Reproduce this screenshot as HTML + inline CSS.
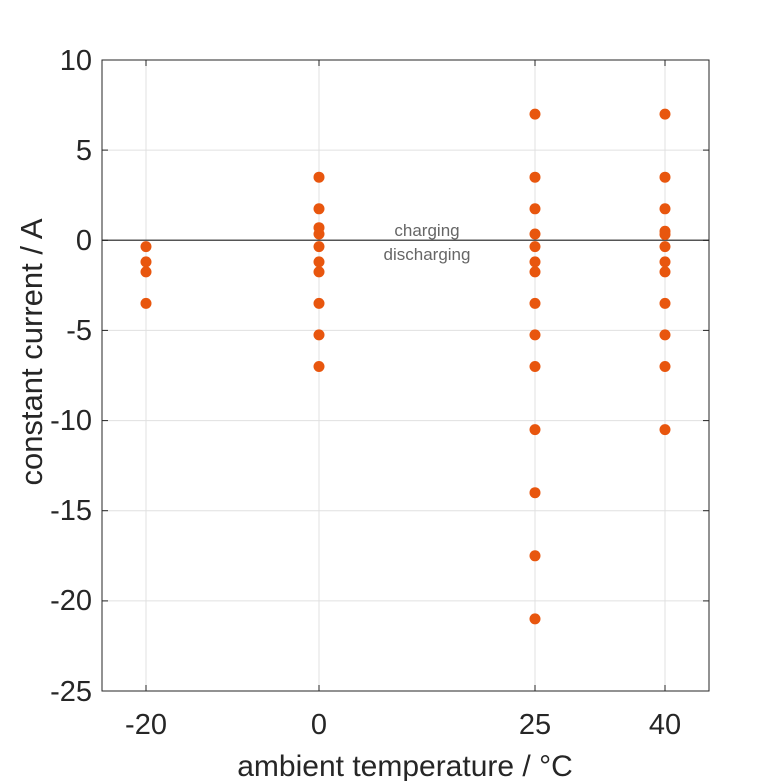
<!DOCTYPE html>
<html><head><meta charset="utf-8"><style>
html,body{margin:0;padding:0;background:#fff;}
svg{display:block;font-family:"Liberation Sans",Arial,sans-serif;}
</style></head><body>
<svg width="781" height="781" viewBox="0 0 781 781" xmlns="http://www.w3.org/2000/svg">
<rect width="781" height="781" fill="#fff"/>
<g stroke="#e0e0e0" stroke-width="1">
<line x1="146" y1="60" x2="146" y2="691"/>
<line x1="319" y1="60" x2="319" y2="691"/>
<line x1="535" y1="60" x2="535" y2="691"/>
<line x1="665" y1="60" x2="665" y2="691"/>
<line x1="102" y1="150.1" x2="709" y2="150.1"/>
<line x1="102" y1="330.4" x2="709" y2="330.4"/>
<line x1="102" y1="420.6" x2="709" y2="420.6"/>
<line x1="102" y1="510.7" x2="709" y2="510.7"/>
<line x1="102" y1="600.9" x2="709" y2="600.9"/>
</g>
<line x1="102" y1="240.3" x2="709" y2="240.3" stroke="#555" stroke-width="1.5"/>
<rect x="102" y="60" width="607" height="631" fill="none" stroke="#262626" stroke-width="1"/>
<g stroke="#262626" stroke-width="1">
<line x1="146" y1="691" x2="146" y2="685"/><line x1="319" y1="691" x2="319" y2="685"/>
<line x1="535" y1="691" x2="535" y2="685"/><line x1="665" y1="691" x2="665" y2="685"/>
<line x1="146" y1="60" x2="146" y2="66"/><line x1="319" y1="60" x2="319" y2="66"/>
<line x1="535" y1="60" x2="535" y2="66"/><line x1="665" y1="60" x2="665" y2="66"/>
<line x1="102" y1="60" x2="108" y2="60"/><line x1="102" y1="150.1" x2="108" y2="150.1"/>
<line x1="102" y1="240.3" x2="108" y2="240.3"/><line x1="102" y1="330.4" x2="108" y2="330.4"/>
<line x1="102" y1="420.6" x2="108" y2="420.6"/><line x1="102" y1="510.7" x2="108" y2="510.7"/>
<line x1="102" y1="600.9" x2="108" y2="600.9"/><line x1="102" y1="691" x2="108" y2="691"/>
<line x1="709" y1="60" x2="703" y2="60"/><line x1="709" y1="150.1" x2="703" y2="150.1"/>
<line x1="709" y1="240.3" x2="703" y2="240.3"/><line x1="709" y1="330.4" x2="703" y2="330.4"/>
<line x1="709" y1="420.6" x2="703" y2="420.6"/><line x1="709" y1="510.7" x2="703" y2="510.7"/>
<line x1="709" y1="600.9" x2="703" y2="600.9"/><line x1="709" y1="691" x2="703" y2="691"/>
</g>
<g font-size="29" fill="#262626" text-anchor="end">
<text x="92" y="70">10</text><text x="92" y="160">5</text><text x="92" y="250">0</text>
<text x="92" y="340">-5</text><text x="92" y="430">-10</text><text x="92" y="520">-15</text>
<text x="92" y="610">-20</text><text x="92" y="701">-25</text>
</g>
<g font-size="29" fill="#262626" text-anchor="middle">
<text x="146" y="734">-20</text><text x="319" y="734">0</text>
<text x="535" y="734">25</text><text x="665" y="734">40</text>
</g>
<g font-size="30" fill="#262626" text-anchor="middle">
<text x="405" y="776">ambient temperature / °C</text>
</g>
<text font-size="31" fill="#262626" text-anchor="middle" transform="translate(42,352) rotate(-90)">constant current / A</text>
<g font-size="17" fill="#666" text-anchor="middle">
<text x="427" y="236">charging</text>
<text x="427" y="260">discharging</text>
</g>
<g fill="#e8560e">
<circle cx="146" cy="246.6" r="5.5"/><circle cx="146" cy="261.9" r="5.5"/><circle cx="146" cy="271.9" r="5.5"/><circle cx="146" cy="303.4" r="5.5"/>
<circle cx="319" cy="177.2" r="5.5"/><circle cx="319" cy="208.8" r="5.5"/><circle cx="319" cy="227.7" r="5.5"/><circle cx="319" cy="234" r="5.5"/>
<circle cx="319" cy="246.6" r="5.5"/><circle cx="319" cy="261.9" r="5.5"/><circle cx="319" cy="271.9" r="5.5"/><circle cx="319" cy="303.4" r="5.5"/>
<circle cx="319" cy="334.9" r="5.5"/><circle cx="319" cy="366.5" r="5.5"/>
<circle cx="535" cy="114.1" r="5.5"/><circle cx="535" cy="177.2" r="5.5"/><circle cx="535" cy="208.8" r="5.5"/><circle cx="535" cy="234" r="5.5"/>
<circle cx="535" cy="246.6" r="5.5"/><circle cx="535" cy="261.9" r="5.5"/><circle cx="535" cy="271.9" r="5.5"/><circle cx="535" cy="303.4" r="5.5"/>
<circle cx="535" cy="334.9" r="5.5"/><circle cx="535" cy="366.5" r="5.5"/><circle cx="535" cy="429.6" r="5.5"/><circle cx="535" cy="492.7" r="5.5"/>
<circle cx="535" cy="555.8" r="5.5"/><circle cx="535" cy="618.9" r="5.5"/>
<circle cx="665" cy="114.1" r="5.5"/><circle cx="665" cy="177.2" r="5.5"/><circle cx="665" cy="208.8" r="5.5"/><circle cx="665" cy="231.3" r="5.5"/><circle cx="665" cy="234.5" r="5.5"/>
<circle cx="665" cy="246.6" r="5.5"/><circle cx="665" cy="261.9" r="5.5"/><circle cx="665" cy="271.9" r="5.5"/><circle cx="665" cy="303.4" r="5.5"/>
<circle cx="665" cy="334.9" r="5.5"/><circle cx="665" cy="366.5" r="5.5"/><circle cx="665" cy="429.6" r="5.5"/>
</g>
</svg>
</body></html>
